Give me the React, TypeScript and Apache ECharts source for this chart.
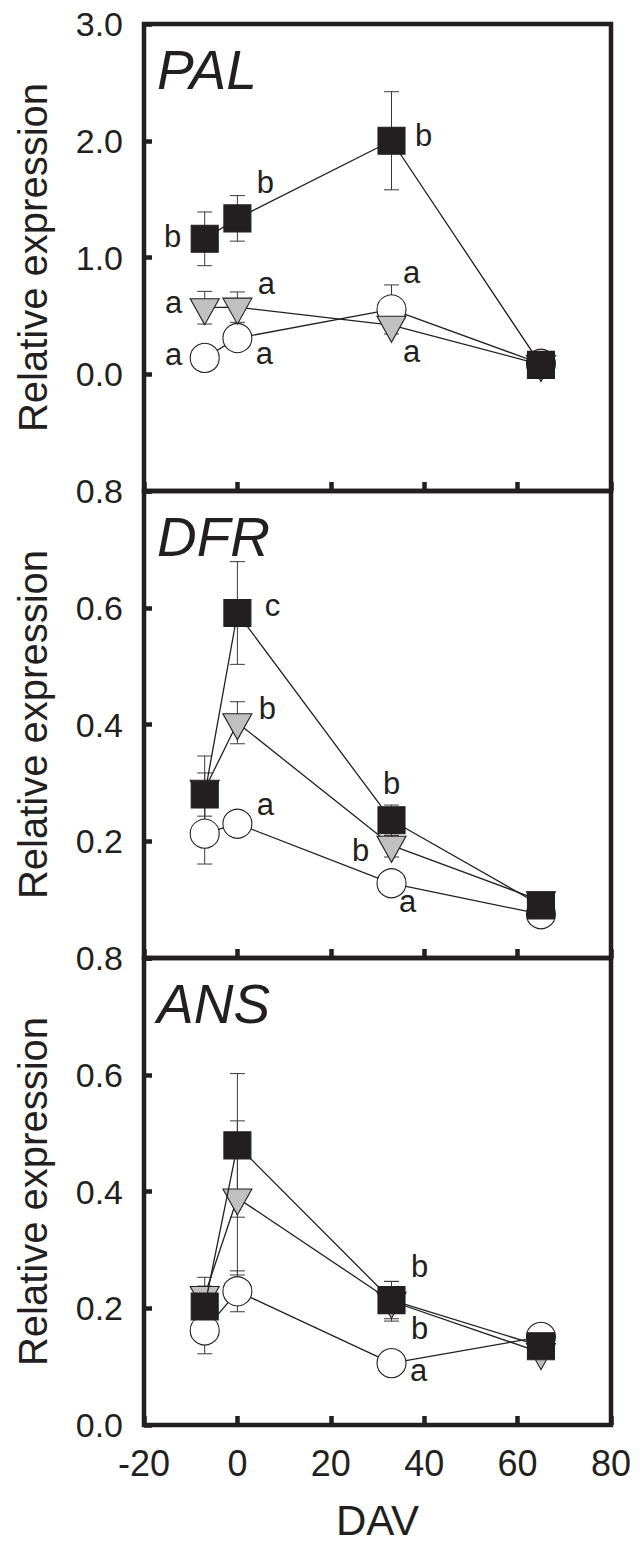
import React, { useEffect, useRef } from 'react';
import * as echarts from 'echarts';

// ---------- data ----------
const days = [-7, 0, 33, 65];
const xMin = -20;
const xMax = 80;
const xStep = 20;

// PAL
const palSquare = [1.16, 1.335, 2.0, 0.08];
const palSquareErr = [0.23, 0.195, 0.42, 0.02];
const palTriangle = [0.57, 0.575, 0.42, 0.083];
const palTriangleErr = [0.14, 0.13, 0.03, 0.02];
const palCircle = [0.14, 0.31, 0.555, 0.09];
const palCircleErr = [0.05, 0.05, 0.21, 0.02];

// DFR
const dfrSquare = [0.28, 0.591, 0.236, 0.09];
const dfrSquareErr = [0.037, 0.088, 0.026, 0.01];
const dfrTriangle = [0.289, 0.403, 0.193, 0.098];
const dfrTriangleErr = [0.057, 0.036, 0.02, 0.01];
const dfrCircle = [0.213, 0.23, 0.128, 0.075];
const dfrCircleErr = [0.052, 0.01, 0.01, 0.01];

// ANS
const ansSquare = [0.203, 0.479, 0.214, 0.135];
const ansSquareErr = [0.035, 0.123, 0.032, 0.01];
const ansTriangle = [0.222, 0.389, 0.212, 0.124];
const ansTriangleErr = [0.031, 0.132, 0.034, 0.01];
const ansCircle = [0.162, 0.229, 0.106, 0.151];
const ansCircleErr = [0.04, 0.035, 0.01, 0.01];

// significance letters: [series, point index, letter]
const palLetters: [string, number, string][] = [
  ['sq', 0, 'b'], ['sq', 1, 'b'], ['sq', 2, 'b'],
  ['tri', 0, 'a'], ['tri', 1, 'a'], ['tri', 2, 'a'],
  ['cir', 0, 'a'], ['cir', 1, 'a'], ['cir', 2, 'a'],
];
const dfrLetters: [string, number, string][] = [
  ['sq', 1, 'c'], ['tri', 1, 'b'], ['cir', 1, 'a'],
  ['sq', 2, 'b'], ['tri', 2, 'b'], ['cir', 2, 'a'],
];
const ansLetters: [string, number, string][] = [
  ['sq', 2, 'b'], ['tri', 2, 'b'], ['cir', 2, 'a'],
];

const geneNames = ['PAL', 'DFR', 'ANS'];
const yTitle = 'Relative expression';
const xTitle = 'DAV';

// ---------- styles / layout ----------
const INK = '#231f20';
const FONT = '"Liberation Sans", Arial, Helvetica, sans-serif';
const GRID_LEFT = 144;
const GRID_W = 467;
const GRID_H = 467;
const GRID_TOPS = [24, 491, 958];

// pixel offsets for letters (label position relative to its point)
const palLetterOffsets = [
  [-32, -2], [28, -36], [32, -5],
  [-31, -5], [29, -24], [20, 26],
  [-31, -3], [27, 15], [20, -37],
];
const dfrLetterOffsets = [
  [35, -8], [30, -14], [28, -19],
  [0, -37], [-31, 5], [16, 18],
];
const ansLetterOffsets = [
  [28, -34], [28, 27], [27, 7],
];

const panels = [
  {
    min: -1, max: 3, interval: 1,
    hide: (v: number) => v < -0.001,
    sq: palSquare, sqErr: palSquareErr,
    tri: palTriangle, triErr: palTriangleErr,
    cir: palCircle, cirErr: palCircleErr,
    letters: palLetters, offsets: palLetterOffsets,
  },
  {
    min: 0, max: 0.8, interval: 0.2,
    hide: (v: number) => v < 0.001,
    sq: dfrSquare, sqErr: dfrSquareErr,
    tri: dfrTriangle, triErr: dfrTriangleErr,
    cir: dfrCircle, cirErr: dfrCircleErr,
    letters: dfrLetters, offsets: dfrLetterOffsets,
  },
  {
    min: 0, max: 0.8, interval: 0.2,
    hide: (_v: number) => false,
    sq: ansSquare, sqErr: ansSquareErr,
    tri: ansTriangle, triErr: ansTriangleErr,
    cir: ansCircle, cirErr: ansCircleErr,
    letters: ansLetters, offsets: ansLetterOffsets,
  },
];

const markerStyle: Record<string, any> = {
  cir: { symbol: 'circle', symbolSize: 29, symbolRotate: 0, symbolOffset: [0, 0], fill: '#ffffff', z: 3 },
  tri: { symbol: 'triangle', symbolSize: [29, 26], symbolRotate: 180, symbolOffset: [0, 4], fill: '#c0c0c0', z: 4 },
  sq: { symbol: 'rect', symbolSize: 27, symbolRotate: 0, symbolOffset: [0, 0], fill: INK, z: 5 },
};

function buildOption() {
  const grid: any[] = [];
  const xAxis: any[] = [];
  const yAxis: any[] = [];
  const series: any[] = [];
  const graphic: any[] = [];

  panels.forEach((p, pi) => {
    grid.push({
      left: GRID_LEFT, top: GRID_TOPS[pi], width: GRID_W, height: GRID_H,
      show: true, borderColor: INK, borderWidth: 4.5, backgroundColor: 'transparent',
    });
    xAxis.push({
      type: 'value', gridIndex: pi, min: xMin, max: xMax, interval: xStep,
      position: 'bottom',
      axisLine: { show: false, onZero: false },
      axisTick: { show: true, inside: true, length: 9, lineStyle: { color: INK, width: 4.5 } },
      axisLabel: {
        show: pi === 2, margin: 20, fontSize: 36, color: INK, fontFamily: FONT,
      },
      splitLine: { show: false },
    });
    yAxis.push({
      type: 'value', gridIndex: pi, min: p.min, max: p.max, interval: p.interval,
      position: 'left',
      axisLine: { show: false, onZero: false },
      axisTick: { show: true, inside: true, length: 8, lineStyle: { color: INK, width: 4.5 } },
      axisLabel: {
        margin: 21, fontSize: 34, color: INK, fontFamily: FONT,
        formatter: (v: number) => (p.hide(v) ? '' : v.toFixed(1)),
      },
      splitLine: { show: false },
    });

    (['cir', 'tri', 'sq'] as const).forEach((key) => {
      const vals: number[] = (p as any)[key];
      const errs: number[] = (p as any)[key + 'Err'];
      const ms = markerStyle[key];
      series.push({
        type: 'custom', xAxisIndex: pi, yAxisIndex: pi, z: 2, silent: true,
        data: days.map((d, i) => [d, vals[i], errs[i]]),
        encode: { x: 0, y: 1 },
        renderItem: (_params: any, api: any) => {
          const x = api.value(0);
          const y = api.value(1);
          const e = api.value(2);
          const top = api.coord([x, y + e]);
          const bot = api.coord([x, y - e]);
          const cw = 7.5;
          const st = { stroke: '#3a3a3a', lineWidth: 1 };
          return {
            type: 'group',
            children: [
              { type: 'line', shape: { x1: top[0], y1: top[1], x2: bot[0], y2: bot[1] }, style: st },
              { type: 'line', shape: { x1: top[0] - cw, y1: top[1], x2: top[0] + cw, y2: top[1] }, style: st },
              { type: 'line', shape: { x1: bot[0] - cw, y1: bot[1], x2: bot[0] + cw, y2: bot[1] }, style: st },
            ],
          };
        },
      });
      series.push({
        type: 'line', xAxisIndex: pi, yAxisIndex: pi, z: ms.z, silent: true,
        data: days.map((d, i) => [d, vals[i]]),
        showSymbol: true,
        symbol: ms.symbol, symbolSize: ms.symbolSize, symbolRotate: ms.symbolRotate, symbolOffset: ms.symbolOffset,
        itemStyle: { color: ms.fill, borderColor: INK, borderWidth: 1.1, opacity: 1 },
        lineStyle: { color: INK, width: 1.3 },
        emphasis: { disabled: true },
      });
    });

    // significance letters, anchored to their data points
    const letterData = p.letters.map(([key, idx], li) => [days[idx], (p as any)[key][idx], li]);
    series.push({
      type: 'custom', xAxisIndex: pi, yAxisIndex: pi, z: 10, silent: true,
      data: letterData,
      encode: { x: 0, y: 1 },
      renderItem: (_params: any, api: any) => {
        const li = api.value(2);
        const pt = api.coord([api.value(0), api.value(1)]);
        const off = p.offsets[li];
        return {
          type: 'text',
          x: pt[0] + off[0],
          y: pt[1] + off[1],
          style: {
            text: p.letters[li][2],
            fontFamily: FONT, fontSize: 31, fill: INK,
            textAlign: 'center', textVerticalAlign: 'middle',
          },
        };
      },
    });

    const top = GRID_TOPS[pi];
    graphic.push({
      type: 'text', x: 157, y: top + 46,
      style: {
        text: geneNames[pi], fontFamily: FONT, fontStyle: 'italic', fontSize: 55,
        fill: INK, textAlign: 'left', textVerticalAlign: 'middle',
      },
    });
    graphic.push({
      type: 'text', x: 33, y: top + GRID_H / 2, rotation: Math.PI / 2,
      style: {
        text: yTitle, fontFamily: FONT, fontSize: 40, fill: INK,
        textAlign: 'center', textVerticalAlign: 'middle',
      },
    });
  });

  graphic.push({
    type: 'text', x: GRID_LEFT + GRID_W / 2, y: 1520,
    style: {
      text: xTitle, fontFamily: FONT, fontSize: 42, fill: INK,
      textAlign: 'center', textVerticalAlign: 'middle',
    },
  });

  return {
    animation: false,
    backgroundColor: '#ffffff',
    grid, xAxis, yAxis, series, graphic,
  };
}

export default function App() {
  const ref = useRef<HTMLDivElement>(null);
  useEffect(() => {
    if (!ref.current) return;
    const chart = echarts.init(ref.current, null, { renderer: 'svg' });
    chart.setOption(buildOption() as any);
    return () => chart.dispose();
  }, []);
  return (
    <div
      ref={ref}
      style={{ position: 'absolute', left: 0, top: 0, width: 644, height: 1546 }}
    />
  );
}
